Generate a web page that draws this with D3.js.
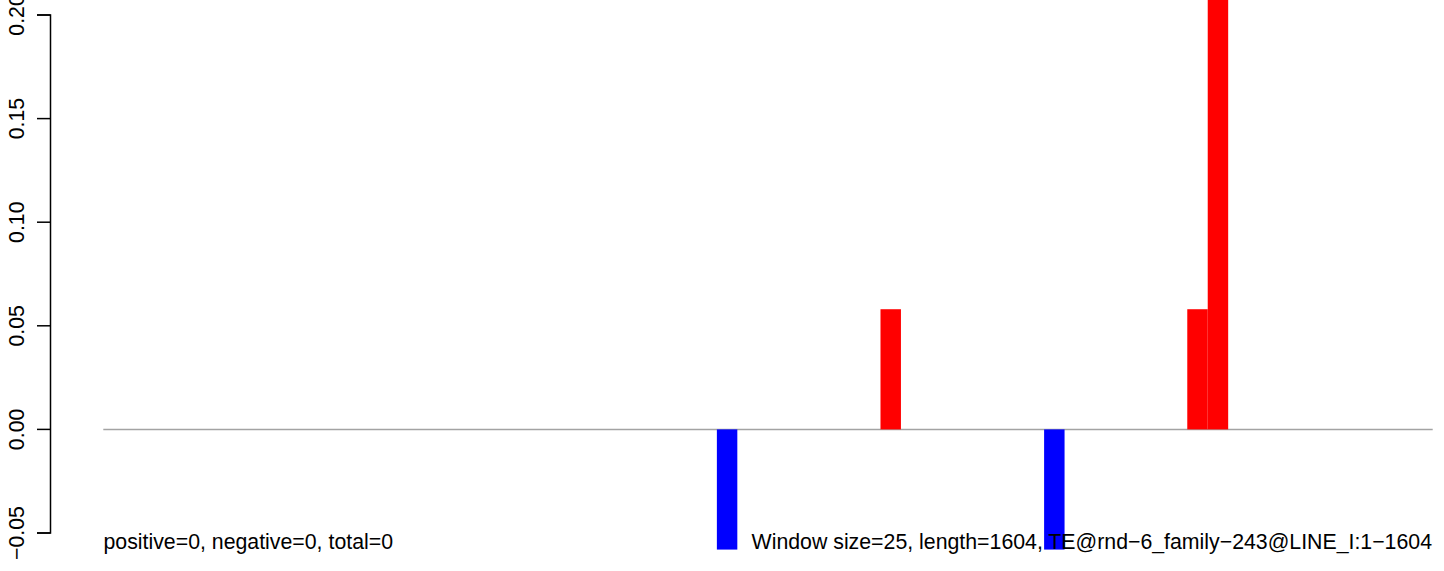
<!DOCTYPE html>
<html><head><meta charset="utf-8">
<script src="https://cdn.jsdelivr.net/npm/d3@7"></script>
<style>html,body{margin:0;padding:0;background:#fff;} svg{display:block;font-family:"Liberation Sans",Arial,sans-serif;}</style>
</head><body>
<script>
// Data
const windowSize = 25;
const seqLength = 1604;
const nWindows = 65;
const barWindows = [30, 38, 46, 53, 54];
const barValues = [-0.058, 0.058, -0.058, 0.058, 0.30];
const yTicks = [-0.05, 0.00, 0.05, 0.10, 0.15, 0.20];
const leftLabel = "positive=0, negative=0, total=0";
const rightLabel = "Window size=25, length=1604, TE@rnd\u22126_family\u2212243@LINE_I:1\u22121604";

const W = 1444, H = 571;
const FS = 21.3;
const svg = d3.select("body").append("svg").attr("width", W).attr("height", H);

const x = d3.scaleLinear().domain([0, nWindows]).range([103.3, 1432.7]);
const y = d3.scaleLinear().domain([-0.05, 0.20]).range([533, 15]);

svg.append("defs").append("clipPath").attr("id", "plotclip")
  .append("rect").attr("x", 0).attr("y", 0).attr("width", W).attr("height", 555);

// baseline
svg.append("line")
  .attr("x1", x(0)).attr("x2", x(nWindows))
  .attr("y1", y(0)).attr("y2", y(0))
  .attr("stroke", "#a3a3a3").attr("stroke-width", 1.5);

// bars
svg.append("g").attr("clip-path", "url(#plotclip)")
  .selectAll("rect").data(barWindows.map((w, i) => ({w, v: barValues[i]})))
  .join("rect")
  .attr("x", d => x(d.w))
  .attr("width", d => x(d.w + 1) - x(d.w))
  .attr("y", d => Math.min(y(d.v), y(0)))
  .attr("height", d => Math.abs(y(d.v) - y(0)))
  .attr("fill", d => d.v >= 0 ? "#ff0000" : "#0000ff");

// y axis
const axis = d3.axisLeft(y).tickValues(yTicks).tickSize(13.5).tickPadding(0)
  .tickFormat(d => d3.format(".2f")(d).replace("-", "\u2212"));
const gAxis = svg.append("g").attr("transform", "translate(50.5,0)").call(axis);
gAxis.select(".domain").attr("d", `M-13.5,${y(0.20)}H0V${y(-0.05)}H-13.5`)
  .attr("stroke", "#000").attr("stroke-width", 1.5).attr("fill", "none");
gAxis.selectAll(".tick").attr("transform", null);
gAxis.selectAll(".tick line").attr("stroke", "#000").attr("stroke-width", 1.5)
  .attr("x1", -13.5).attr("x2", 0)
  .attr("y1", d => y(d)).attr("y2", d => y(d));
gAxis.selectAll(".tick text")
  .attr("dy", 0)
  .attr("transform", "rotate(-90)")
  .attr("text-anchor", "middle")
  .attr("font-size", FS).attr("fill", "#000")
  .attr("font-family", "'Liberation Sans', Arial, sans-serif")
  .each(function(d) {
    d3.select(this).attr("x", -y(d)).attr("y", -27);
  });

// labels
svg.append("text").attr("x", 103.5).attr("y", 549)
  .attr("font-size", FS).attr("fill", "#000").text(leftLabel);
svg.append("text").attr("x", 1432).attr("y", 549).attr("text-anchor", "end")
  .attr("font-size", FS).attr("fill", "#000").text(rightLabel);
</script>
</body></html>
